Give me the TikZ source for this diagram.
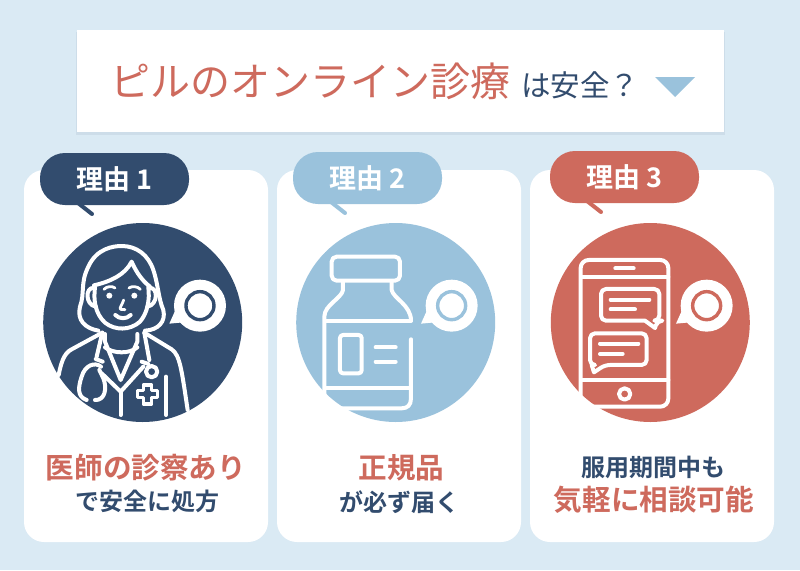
\documentclass[tikz,border=0pt]{standalone}
\usepackage{fontspec}
\newfontfamily\jp{Noto Sans CJK JP}
\newfontfamily\jpb{Noto Sans CJK JP Bold}
\definecolor{bgc}{HTML}{DAEAF4}
\definecolor{navy}{HTML}{324C6E}
\definecolor{sky}{HTML}{9AC2DC}
\definecolor{brick}{HTML}{CE6A5D}
\tikzset{
 cardbox/.style={fill=white,rounded corners=20pt,minimum width=244pt,minimum height=372pt,inner sep=0pt},
 pillbox/.style={rounded corners=25pt,minimum width=149pt,minimum height=52pt,inner sep=0pt,text=white,font=\jpb\fontsize{27}{27}\selectfont},
 disc/.style={circle,minimum size=199pt,inner sep=0pt},
 tailline/.style={line width=4pt,line cap=round},
 icon/.style={white,line width=4pt,line cap=round,line join=round},
 big/.style={inner sep=0pt,text=brick,font=\jpb\fontsize{28.6}{28.6}\selectfont},
 small/.style={inner sep=0pt,text=navy,font=\jpb\fontsize{24}{24}\selectfont},
}
\newcommand{\talkbub}[3]{% cx cy colour (zoom units)
 \fill[white] (#1,#2) circle (78);
 \fill[white] (#1-92,#2+54) -- (#1-70,#2+5) -- (#1-30,#2+60) -- (#1-60,#2+51) -- cycle;
 \draw[#3,line width=3.4pt] (#1,#2) circle (42);
}
\begin{document}
\begin{tikzpicture}[x=1pt,y=-1pt]
\useasboundingbox (0,0) rectangle (800,570);
\fill[bgc] (0,0) rectangle (800,570);
% title
\fill[navy!8!bgc] (76,32) rectangle (725,135);
\node[fill=white,minimum width=647pt,minimum height=102pt,inner sep=0pt] (title) at (400.5,81) {};
\node[inner sep=0pt,anchor=west,text=brick,font=\jp\fontsize{40}{40}\selectfont] (t1) at (110,81) {ピルのオンライン診療};
\node[inner sep=0pt,anchor=west,text=navy,font=\jp\fontsize{29.5}{30}\selectfont] (t2) at (521,85) {は安全？};
\fill[sky] (655,77) -- (695,77) -- (675,97) -- cycle;
% cards
\node[cardbox] (c1) at (146,356) {};
\node[cardbox] (c2) at (399,356) {};
\node[cardbox] (c3) at (652,356) {};
% tails and pills
\coordinate (e1) at (92,214); \coordinate (s1) at (78,203);
\coordinate (e2) at (345,213); \coordinate (s2) at (331,202);
\coordinate (e3) at (601,212); \coordinate (s3) at (587,201);
\draw[tailline,navy] (s1) -- (e1);
\draw[tailline,sky] (s2) -- (e2);
\draw[tailline,brick] (s3) -- (e3);
\node[pillbox,fill=navy] (p1) at (114.5,179) {理由 1};
\node[pillbox,fill=sky] (p2) at (367.5,178) {理由 2};
\node[pillbox,fill=brick] (p3) at (624.5,177) {理由 3};
% discs
\node[disc,fill=navy] (d1) at (142.7,322.5) {};
\node[disc,fill=sky] (d2) at (395.7,322.5) {};
\node[disc,fill=brick] (d3) at (650.3,322.5) {};
% doctor
\begin{scope}[shift={(30,210)},x=0.3333pt,y=-0.3333pt]
 \talkbub{510}{287}{navy}
 \begin{scope}[icon]
  \draw (205,362) .. controls (165,355) and (140,330) .. (150,290) .. controls (165,250) and (150,220) .. (175,170) .. controls (200,115) and (250,108) .. (275,108) .. controls (320,108) and (355,135) .. (370,180) .. controls (385,225) and (385,265) .. (400,300) .. controls (408,335) and (385,360) .. (345,362);
  \draw (192,226) .. controls (240,215) and (285,195) .. (305,155) .. controls (320,190) and (340,215) .. (360,230);
  \draw (195,232) .. controls (190,270) and (195,310) .. (225,338) .. controls (255,362) and (300,362) .. (330,335) .. controls (352,310) and (360,270) .. (355,232);
  \draw (192,234) .. controls (165,230) and (165,285) .. (198,290);
  \draw (358,234) .. controls (385,230) and (385,285) .. (352,290);
  \draw[line width=2.8pt] (222,238) .. controls (230,228) and (248,228) .. (255,234);
  \draw[line width=2.8pt] (297,234) .. controls (305,228) and (322,228) .. (331,238);
  \fill (238,257) circle (9); \fill (313,257) circle (9);
  \draw[line width=2.8pt] (281,270) .. controls (278,282) and (266,296) .. (272,298) -- (285,299);
  \draw (256,315) .. controls (268,328) and (290,328) .. (302,315);
  % neck and shoulders
  \draw (217,368) -- (125,418) .. controls (100,430) and (92,465) .. (86,495);
  \draw (343,368) -- (425,418) .. controls (450,435) and (455,480) .. (473,600);
  \draw (225,412) .. controls (250,432) and (300,432) .. (322,412);
  \draw (225,372) -- (225,395) -- (272,510) -- (322,395) -- (322,372);
  \draw (217,368) -- (200,440);
  \draw (343,368) -- (358,450);
  \draw (215,490) -- (272,545) -- (340,470);
  \draw (272,545) -- (272,615);
  \draw (408,500) -- (408,615);
  % stethoscope
  \draw (365,485) circle (17);
  \draw (335,455) -- (355,462);
  \draw (197,447) -- (218,455);
  \draw (213,470) .. controls (195,455) and (165,465) .. (155,500) .. controls (145,530) and (140,560) .. (170,570);
  \draw (195,570) .. controls (225,572) and (232,535) .. (220,505) -- (208,480);
  % cross
  \draw[line width=3.4pt] (340,525) -- (365,525) -- (365,541) -- (382,541) -- (382,563) -- (365,563) -- (365,582) -- (340,582) -- (340,563) -- (323,563) -- (323,541) -- (340,541) -- cycle;
 \end{scope}
\end{scope}
% bottle
\begin{scope}[shift={(285,210)},x=0.3333pt,y=-0.3333pt]
 \talkbub{500}{287}{sky}
 \begin{scope}[icon]
  \draw[rounded corners=5pt] (140,140) rectangle (345,212);
  \draw (174,215) -- (174,240) .. controls (170,265) and (118,285) .. (118,320) -- (118,540) .. controls (118,580) and (130,595) .. (160,595) -- (350,595) .. controls (368,595) and (378,585) .. (378,565) -- (378,388);
  \draw (320,215) -- (320,240) .. controls (325,265) and (378,285) .. (378,332);
  \draw (125,332) -- (378,332);
  \draw (125,535) -- (370,535);
  \draw[rounded corners=3pt] (165,375) rectangle (230,490);
  \draw (272,412) -- (332,412);
  \draw (272,455) -- (332,455);
 \end{scope}
\end{scope}
% phone
\begin{scope}[shift={(540,210)},x=0.3333pt,y=-0.3333pt]
 \talkbub{500}{287}{brick}
 \begin{scope}[icon]
  \draw[rounded corners=8pt] (122,150) rectangle (385,590);
  \draw (125,200) -- (385,200);
  \draw (125,510) -- (385,510);
  \draw (226,175) -- (281,175);
  \draw (254,552) circle (17);
  \draw[rounded corners=5pt] (183,237) -- (358,237) -- (358,332) -- (352,332) {[sharp corners] -- (345,354) -- (315,332)} -- (183,332) -- cycle;
  \draw[rounded corners=5pt] (150,370) -- (320,370) -- (320,465) -- (195,465) {[sharp corners] -- (162,487) -- (155,465)} -- (150,465) -- cycle;
  \draw (212,269) -- (328,269);
  \draw (212,298) -- (285,298);
  \draw (180,401) -- (295,401);
  \draw (180,432) -- (248,432);
 \end{scope}
\end{scope}
% captions
\node[big] (a1) at (146,468) {医師の診察あり};
\node[small] (a2) at (147,501) {で安全に処方};
\node[big] (b1) at (401.5,468) {正規品};
\node[small] (b2) at (399.5,502) {が必ず届く};
\node[small] (c4) at (653,467) {服用期間中も};
\node[big] (c5) at (654,500) {気軽に相談可能};
\end{tikzpicture}
\end{document}
